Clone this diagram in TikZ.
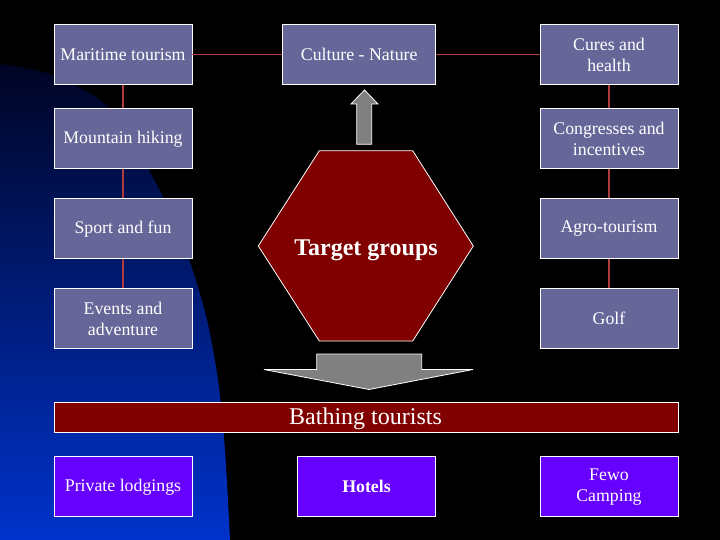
\documentclass[tikz,border=0pt]{standalone}
\usepackage{fontspec}
\setmainfont{Liberation Serif}
\definecolor{boxblue}{RGB}{102,102,153}
\definecolor{linered}{RGB}{175,60,60}
\definecolor{darkmaroon}{RGB}{128,0,0}
\definecolor{violetbox}{RGB}{102,0,255}
\definecolor{arrowgray}{RGB}{128,128,128}
\definecolor{deepblue}{RGB}{0,51,204}
\definecolor{midblue}{RGB}{0,40,168}
\definecolor{nightblue}{RGB}{0,4,36}
\tikzset{
  topic/.style={draw=white, fill=boxblue, text=white, line width=0.8pt,
    minimum width=138pt, minimum height=60pt, inner sep=2pt, align=center,
    font=\fontsize{17.8}{21}\selectfont},
  lodging/.style={topic, fill=violetbox},
  link/.style={draw=linered, line width=1.2pt},
  blockarrow/.style={fill=arrowgray, draw=white, line width=0.8pt, line join=miter}
}
\begin{document}
\begin{tikzpicture}[x=1pt, y=-1pt]
	\def\colL{123}\def\colR{609}
	\useasboundingbox (0,0) rectangle (720,540);
	\fill[black] (0,0) rectangle (720,540);
	% blue backdrop on the left
	\shade[top color=nightblue, middle color=midblue, bottom color=deepblue]
		plot[smooth] coordinates {(0,64) (50,74) (100,100) (130,135) (150,172) (172,215) (192,268) (207,320) (218,380) (225,450) (230,540)}
		-- (0,540) -- cycle;
	
	\node[topic] (maritime) at (\colL,54.8) {Maritime tourism};
	\node[topic] (mountain) at (\colL,138.8) {Mountain hiking};
	\node[topic] (sport) at (\colL,228.8) {Sport and fun};
	\node[topic] (events) at (\colL,318.8) {Events and\\adventure};
	\node[topic, minimum width=153pt] (culture) at (359.2,54.8) {Culture - Nature};
	\node[topic] (cures) at (\colR,54.8) {Cures and\\health};
	\node[topic] (congress) at (\colR,138.8) {Congresses and\\incentives};
	\node[topic] (agro) at (\colR,228.8) {Agro-tourism};
	\node[topic] (golf) at (\colR,318.8) {Golf};
	
	\draw[link] (maritime) -- (culture);
	\draw[link] (culture) -- (cures);
	\draw[link] (maritime) -- (mountain) (mountain) -- (sport) (sport) -- (events);
	\draw[link] (cures) -- (congress) (congress) -- (agro) (agro) -- (golf);
	
	\draw[blockarrow] (356.7,144.3) -- (356.7,104) -- (351,104) -- (364.5,90)
		-- (378,104) -- (371.7,104) -- (371.7,144.3) -- cycle;
	\filldraw[fill=darkmaroon, draw=white, line width=0.8pt] (319.3,150.7) -- (412.7,150.7)
		-- (473.3,246) -- (412.7,341) -- (319.3,341) -- (258.3,246) -- cycle;
	\node[text=white, anchor=base, font=\bfseries\fontsize{24}{28}\selectfont] (target) at (366,255) {Target groups};
	\draw[blockarrow] (316.7,354) -- (421.7,354) -- (421.7,369.5) -- (473,369.5)
		-- (369,389.5) -- (264,369.5) -- (316.7,369.5) -- cycle;
	
	\node[draw=white, fill=darkmaroon, line width=0.8pt, minimum width=624.7pt, minimum height=30pt] (bar) at (366.3,417.3) {};
	\node[text=white, anchor=base, font=\fontsize{24}{28}\selectfont] (bathing) at (365.5,424) {Bathing tourists};
	
	\node[lodging] (private) at (\colL,486.8) {Private lodgings};
	\node[lodging, font=\bfseries\fontsize{17.8}{21}\selectfont] (hotels) at (366.5,486.8) {Hotels};
	\node[lodging] (fewo) at (\colR,486.8) {Fewo\\Camping};
\end{tikzpicture}
\end{document}
